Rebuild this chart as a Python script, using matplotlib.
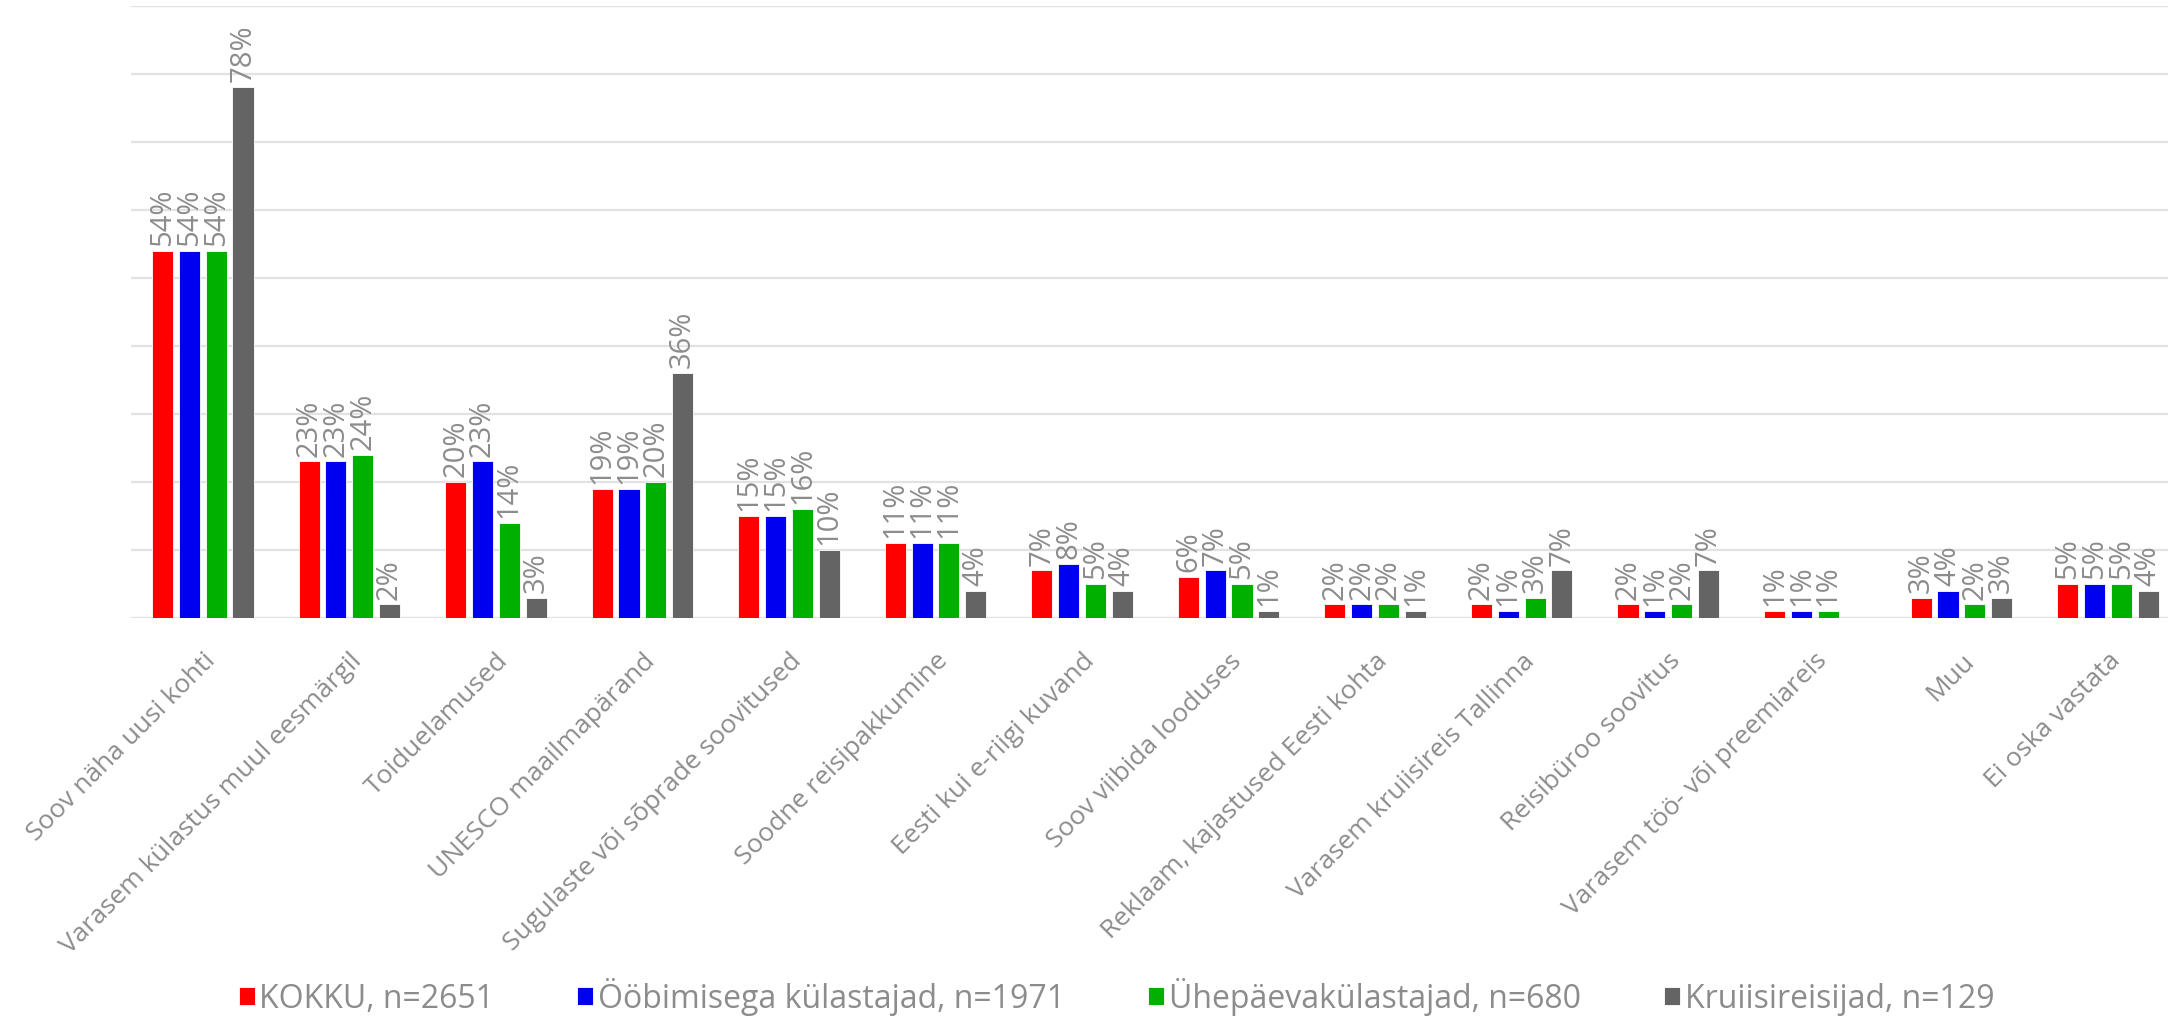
import numpy as np
from matplotlib import pyplot as plt

plt.rcParams['font.family'] = ['Open Sans', 'DejaVu Sans']

# categories and series values (%)
categories = [
    "Soov näha uusi kohti",
    "Varasem külastus muul eesmärgil",
    "Toiduelamused",
    "UNESCO maailmapärand",
    "Sugulaste või sõprade soovitused",
    "Soodne reisipakkumine",
    "Eesti kui e-riigi kuvand",
    "Soov viibida looduses",
    "Reklaam, kajastused Eesti kohta",
    "Varasem kruiisireis Tallinna",
    "Reisibüroo soovitus",
    "Varasem töö- või preemiareis",
    "Muu",
    "Ei oska vastata",
]
kokku = [54, 23, 20, 19, 15, 11, 7, 6, 2, 2, 2, 1, 3, 5]
oobimisega = [54, 23, 23, 19, 15, 11, 8, 7, 2, 1, 1, 1, 4, 5]
uhepaeva = [54, 24, 14, 20, 16, 11, 5, 5, 2, 3, 2, 1, 2, 5]
kruiisi = [78, 2, 3, 36, 10, 4, 4, 1, 1, 7, 7, np.nan, 3, 4]

series_names = ["KOKKU, n=2651", "Ööbimisega külastajad, n=1971",
                "Ühepäevakülastajad, n=680", "Kruiisireisijad, n=129"]
series = [kokku, oobimisega, uhepaeva, kruiisi]
colors = ['#FF0000', '#0000F0', '#00B000', '#646464']

text_gray = '#8c8c8c'

fig = plt.figure(figsize=(21.68, 10.19), dpi=100)
ax = fig.add_axes([0.0604, 0.3935, 0.9396, 0.6011])

x = np.arange(len(categories))
slot = 0.183
width = 0.144

for i, (vals, name, col) in enumerate(zip(series, series_names, colors)):
    pos = x + (i - 1.5) * slot
    v = np.array(vals, dtype=float)
    ax.bar(pos, np.nan_to_num(v), width, color=col, label=name,
           edgecolor='white', linewidth=0.6, zorder=3)
    for px, val in zip(pos, v):
        if np.isnan(val):
            continue
        ax.text(px, val + 0.7, f"{int(val)}%", rotation=90, ha='center',
                va='bottom', fontsize=21, color=text_gray)

ax.set_ylim(0, 90)
ax.set_xlim(-0.49, 13.41)
ax.set_yticks(np.arange(0, 91, 10))
ax.yaxis.grid(True, color='#e2e2e2', linewidth=1.6, zorder=0)
ax.set_yticklabels([])
ax.tick_params(axis='both', length=0)
for s in ax.spines.values():
    s.set_visible(False)

ax.set_xticks(x)
ax.set_xticklabels(categories, rotation=45, ha='right', rotation_mode='anchor',
                   fontsize=19, color=text_gray)
ax.tick_params(axis='x', pad=22)

leg = fig.legend(loc='center', bbox_to_anchor=(0.515, 0.022), ncol=4,
                 frameon=False, fontsize=23, handlelength=0.5, handleheight=0.5,
                 handletextpad=0.15, columnspacing=2.6)
for t in leg.get_texts():
    t.set_color(text_gray)

fig.savefig('out.png', dpi=100)
